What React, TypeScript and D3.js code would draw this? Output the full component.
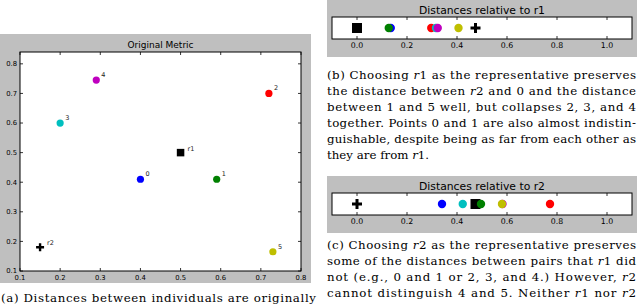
import * as React from 'react'
import { scaleLinear } from 'd3'

// individuals 0..5 in the original metric
const pointIds = ['0', '1', '2', '3', '4', '5']
const origX = [0.40, 0.59, 0.72, 0.20, 0.29, 0.73]
const origY = [0.41, 0.41, 0.70, 0.60, 0.745, 0.165]
// representatives
const repNames = ['r1', 'r2']
const repX = [0.50, 0.15]
const repY = [0.50, 0.18]
// distances
const distR1 = [0.135, 0.127, 0.297, 0.316, 0.323, 0.406]
const repDistR1 = [0, 0.474]
const distR2 = [0.340, 0.496, 0.772, 0.423, 0.582, 0.580]
const repDistR2 = [0.474, 0]

const xTicksA = [0.1, 0.2, 0.3, 0.4, 0.5, 0.6, 0.7, 0.8]
const yTicksA = [0.1, 0.2, 0.3, 0.4, 0.5, 0.6, 0.7, 0.8]
const stripTicks = [0.0, 0.2, 0.4, 0.6, 0.8, 1.0]

const colors = ['#0000ff', '#008000', '#ff0000', '#00bfbf', '#bf00bf', '#bfbf00']
const GRAY = '#bfbfbf'
const SANS = 'DejaVu Sans, sans-serif'
const SERIF = "'DejaVu Serif', serif"

const captionA = ['(a) Distances between individuals are originally']
const captionB = [
    '(b) Choosing r1 as the representative preserves',
    'the distance between r2 and 0 and the distance',
    'between 1 and 5 well, but collapses 2, 3, and 4',
    'together. Points 0 and 1 are also almost indistin-',
    'guishable, despite being as far from each other as',
    'they are from r1.'
]
const captionC = [
    '(c) Choosing r2 as the representative preserves',
    'some of the distances between pairs that r1 did',
    'not (e.g., 0 and 1 or 2, 3, and 4.) However, r2',
    'cannot distinguish 4 and 5. Neither r1 nor r2'
]

function Marker ({ kind, x, y, s }: { kind: string, x: number, y: number, s: number }) {
    if (kind === 'r1') {
        return <rect x={x - s / 2} y={y - s / 2} width={s} height={s} fill='#000' />
    }
    const h = s / 2
    return <path d={`M${x - h},${y}H${x + h}M${x},${y - h}V${y + h}`} stroke='#000' strokeWidth={s * 0.3} />
}

function Caption ({ lines, x0, x1, y0, justifyLast }: { lines: string[], x0: number, x1: number, y0: number, justifyLast?: boolean }) {
    return <g style={{ fontFamily: SERIF, fontSize: 11.8 }} fill='#000'>
        {lines.map((line, i) => {
            const parts = line.split(/(r[12])/)
            const last = i === lines.length - 1 && !justifyLast
            return <text key={i} x={x0} y={y0 + i * 15.9}
                textLength={last ? undefined : x1 - x0}
                lengthAdjust='spacing'>
                {parts.map((p, j) => /^r[12]$/.test(p)
                    ? <React.Fragment key={j}><tspan fontStyle='italic'>r</tspan>{p.slice(1)}</React.Fragment>
                    : <React.Fragment key={j}>{p}</React.Fragment>)}
            </text>
        })}
    </g>
}

function Strip ({ top, title, dist, repDist }: { top: number, title: string, dist: number[], repDist: number[] }) {
    const x = scaleLinear().domain([-0.1, 1.1]).range([332, 632])
    const boxTop = top + 17
    const boxBot = top + 39
    const cy = (boxTop + boxBot) / 2
    return <g>
        <rect x={327} y={top} width={310} height={57} fill={GRAY} />
        <text x={(332 + 632) / 2} y={top + 14} textAnchor='middle' fontFamily={SANS} fontSize={10.8}>{title}</text>
        <rect x={332} y={boxTop} width={300} height={boxBot - boxTop} fill='#fff' />
        {stripTicks.map(t => <g key={t}>
            <line x1={x(t)} x2={x(t)} y1={boxTop} y2={boxTop + 3} stroke='#000' strokeWidth={0.8} />
            <line x1={x(t)} x2={x(t)} y1={boxBot} y2={boxBot - 3} stroke='#000' strokeWidth={0.8} />
            <text x={x(t)} y={boxBot + 9} textAnchor='middle' fontFamily={SANS} fontSize={7.8}>{t.toFixed(1)}</text>
        </g>)}
        {repNames.map((r, i) => <Marker key={r} kind={r} x={x(repDist[i])} y={cy} s={10} />)}
        {dist.map((d, i) => <circle key={i} cx={x(d)} cy={cy} r={4.2} fill={colors[i]} />)}
        <rect x={332} y={boxTop} width={300} height={boxBot - boxTop} fill='none' stroke='#000' strokeWidth={1} />
    </g>
}

export default function App () {
    const x = scaleLinear().domain([0.1, 0.8]).range([20, 301])
    const y = scaleLinear().domain([0.1, 0.84]).range([271, 52])
    const [l, r] = x.range()
    const [b, t] = y.range()
    return <svg width={640} height={308} style={{ position: 'absolute', left: 0, top: 0, background: '#fff' }}>
        <rect x={0} y={34} width={311} height={249} fill={GRAY} />
        <text x={(l + r) / 2} y={48} textAnchor='middle' fontFamily={SANS} fontSize={9}>Original Metric</text>
        <rect x={l} y={t} width={r - l} height={b - t} fill='#fff' />
        {xTicksA.map(v => <g key={'x' + v}>
            <line x1={x(v)} x2={x(v)} y1={b} y2={b - 3} stroke='#000' strokeWidth={0.8} />
            <line x1={x(v)} x2={x(v)} y1={t} y2={t + 3} stroke='#000' strokeWidth={0.8} />
            <text x={x(v)} y={b + 9} textAnchor='middle' fontFamily={SANS} fontSize={6.8}>{v.toFixed(1)}</text>
        </g>)}
        {yTicksA.map(v => <g key={'y' + v}>
            <line x1={l} x2={l + 3} y1={y(v)} y2={y(v)} stroke='#000' strokeWidth={0.8} />
            <line x1={r} x2={r - 3} y1={y(v)} y2={y(v)} stroke='#000' strokeWidth={0.8} />
            <text x={l - 3} y={y(v) + 2.4} textAnchor='end' fontFamily={SANS} fontSize={6.8}>{v.toFixed(1)}</text>
        </g>)}
        {repNames.map((n, i) => <g key={n}>
            <Marker kind={n} x={x(repX[i])} y={y(repY[i])} s={i === 0 ? 7.5 : 8} />
            <text x={x(repX[i]) + 7} y={y(repY[i]) - 2} fontFamily={SANS} fontSize={6.5} fill='#222'>{n}</text>
        </g>)}
        {pointIds.map((id, i) => <g key={id}>
            <circle cx={x(origX[i])} cy={y(origY[i])} r={3.6} fill={colors[i]} />
            <text x={x(origX[i]) + 5} y={y(origY[i]) - 3} fontFamily={SANS} fontSize={6.5} fill='#222'>{id}</text>
        </g>)}
        <rect x={l} y={t} width={r - l} height={b - t} fill='none' stroke='#000' strokeWidth={1} />

        <Strip top={0} title='Distances relative to r1' dist={distR1} repDist={repDistR1} />
        <Strip top={176} title='Distances relative to r2' dist={distR2} repDist={repDistR2} />

        <Caption lines={captionA} x0={1} x1={316} y0={302} justifyLast />
        <Caption lines={captionB} x0={327} x1={636} y0={79} />
        <Caption lines={captionC} x0={327} x1={636} y0={249} justifyLast />
    </svg>
}
